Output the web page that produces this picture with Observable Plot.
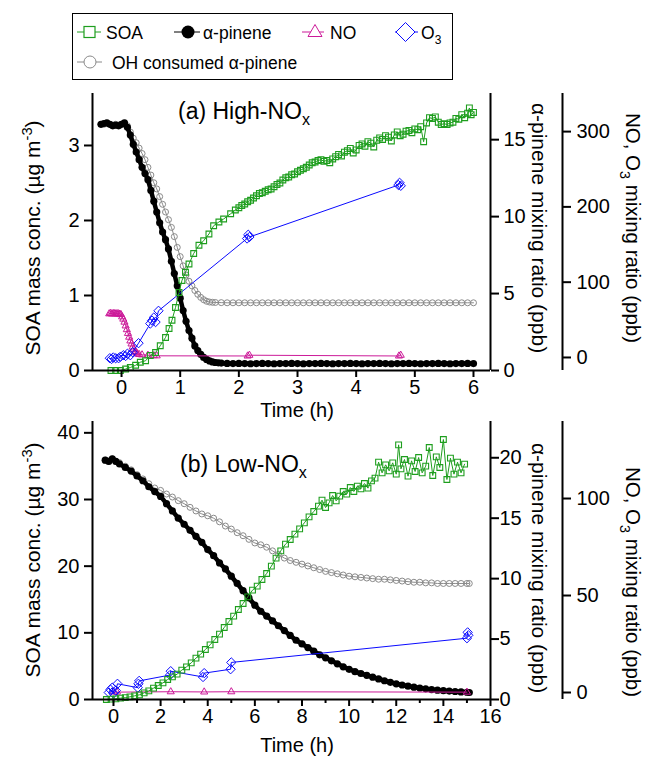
<!DOCTYPE html>
<html><head><meta charset="utf-8">
<script src="https://cdn.jsdelivr.net/npm/d3@7"></script>
<script src="https://cdn.jsdelivr.net/npm/@observablehq/plot@0.6"></script>
<style>
body{margin:0;background:#fff;}
#wrap{position:relative;width:647px;height:764px;font-family:'Liberation Sans',Arial,sans-serif;}
#legend{position:absolute;left:0;top:0;}
#panelA{position:absolute;left:0;top:80px;}
#panelB{position:absolute;left:0;top:413px;}
</style></head><body>
<div id="wrap">
<svg id="legend" width="647" height="82" font-family="'Liberation Sans', Arial, sans-serif" font-size="17.5">
<rect x="72.5" y="13.5" width="380" height="66" fill="none" stroke="#000"/>
<line x1="77" x2="101" y1="32" y2="32" stroke="#1e9e1e"/>
<rect x="84" y="26.5" width="11" height="11" fill="#fff" stroke="#1e9e1e" stroke-width="1.2"/>
<text x="106" y="38.5">SOA</text>
<line x1="174" x2="200" y1="32" y2="32" stroke="#000"/>
<circle cx="188" cy="32" r="6.5" fill="#000"/>
<text x="203" y="38.5">α-pinene</text>
<line x1="302" x2="324" y1="32" y2="32" stroke="#cc1a99"/>
<path d="M315,24.5 L322,36.5 L308,36.5 Z" fill="#fff" stroke="#cc1a99"/>
<text x="330" y="38.5">NO</text>
<line x1="395" x2="418" y1="32" y2="32" stroke="#0a0aff"/>
<path d="M405.5,22.5 L415,32 L405.5,41.5 L396,32 Z" fill="#fff" stroke="#0a0aff"/>
<text x="421" y="38.5">O<tspan dy="5" font-size="12">3</tspan></text>
<line x1="77" x2="102" y1="62" y2="62" stroke="#8a8a8a"/>
<circle cx="90" cy="62" r="6" fill="#fff" stroke="#8a8a8a"/>
<text x="112" y="68.5">OH consumed α-pinene</text>
</svg>
<div id="panelA"></div><div id="panelB"></div>
</div>
<script>
// ---------- Panel (a) High-NOx data : [time (h), value] ----------
const aTimeTicks = [0, 1, 2, 3, 4, 5, 6];
const aSoaTicks = [0, 1, 2, 3];
const aAlphaTicks = [0, 5, 10, 15];
const aNoxTicks = [0, 100, 200, 300];

// SOA mass conc. (ug m-3)
const aSOA = [[-0.18,0.00],[-0.10,0.00],[-0.02,0.00],[0.07,0.02],[0.15,0.04],[0.24,0.07],[0.32,0.11],[0.41,0.13],[0.49,0.20],[0.58,0.24],[0.66,0.33],[0.75,0.44],[0.81,0.56],[0.86,0.67],[0.92,0.84],[0.98,1.04],[1.03,1.20],[1.09,1.31],[1.15,1.42],[1.23,1.56],[1.32,1.67],[1.40,1.73],[1.49,1.82],[1.57,1.93],[1.66,1.98],[1.74,2.02],[1.86,2.09],[1.94,2.14],
[2.00,2.17],[2.05,2.20],[2.10,2.22],[2.15,2.25],[2.20,2.27],[2.25,2.30],[2.30,2.33],[2.35,2.36],[2.40,2.37],[2.45,2.39],[2.50,2.41],[2.55,2.42],[2.60,2.45],[2.65,2.48],[2.70,2.50],[2.75,2.54],[2.80,2.57],[2.85,2.58],[2.90,2.61],[2.95,2.62],[3.00,2.65],[3.05,2.67],[3.10,2.69],[3.15,2.71],[3.20,2.74],[3.25,2.77],[3.30,2.78],[3.35,2.80],[3.40,2.81],[3.45,2.79],[3.50,2.80],[3.55,2.77],[3.60,2.82],[3.65,2.85],[3.70,2.88],[3.75,2.86],[3.80,2.91],[3.85,2.93],[3.90,2.96],[3.95,2.90],[4.00,2.94],[4.05,3.00],[4.10,3.02],[4.15,2.99],[4.20,3.05],[4.25,3.03],[4.30,2.98],[4.35,3.07],[4.40,3.10],[4.45,3.08],[4.50,3.13],[4.55,3.11],[4.60,3.06],[4.65,3.14],[4.70,3.18],[4.75,3.13],[4.80,3.15],[4.85,3.19],[4.90,3.20],[4.95,3.17],[5.00,3.22],[5.05,3.21],[5.10,3.25],[5.15,3.05],[5.20,3.30],[5.25,3.37],[5.30,3.36],[5.35,3.38],[5.40,3.31],[5.45,3.28],[5.50,3.29],[5.55,3.28],[5.60,3.30],[5.65,3.31],[5.70,3.36],[5.75,3.35],[5.80,3.41],[5.85,3.37],[5.90,3.43],[5.93,3.50],[5.96,3.41],[6.00,3.44]];

// alpha-pinene (ppb)
const aAlpha = [[-0.35,16.0],[-0.3,16.05],[-0.25,16.1],[-0.2,16.0],[-0.15,15.9],[-0.1,15.95],[-0.05,15.9],[0,16.0],[0.05,16.1],[0.1,15.8],[0.15,15.3],[0.2,14.7],[0.25,14.2],[0.3,13.7],[0.35,13.2],[0.4,12.8],[0.45,12.4],[0.5,11.7],[0.55,11.0],[0.6,10.3],[0.65,9.6],[0.7,9.0],[0.75,8.5],[0.8,7.9],[0.85,7.1],[0.9,6.3],[0.95,5.5],[1.0,4.7],[1.05,3.9],[1.1,3.2],[1.15,2.6],[1.2,2.1],[1.25,1.6],[1.3,1.3],[1.35,1.05],[1.4,0.85],[1.45,0.72],[1.5,0.62],[1.55,0.56],[1.6,0.52],[1.65,0.5],[1.7,0.48],[1.8,0.46],[1.9,0.45],[2.0,0.46],[2.1,0.45],[2.2,0.44],[2.3,0.45],[2.4,0.46],[2.5,0.45],[2.6,0.44],[2.7,0.45],[2.8,0.45],[2.9,0.46],[3.0,0.45],[3.1,0.44],[3.2,0.45],[3.3,0.45],[3.4,0.46],[3.5,0.45],[3.6,0.44],[3.7,0.45],[3.8,0.45],[3.9,0.46],[4.0,0.45],[4.1,0.44],[4.2,0.45],[4.3,0.45],[4.4,0.46],[4.5,0.45],[4.6,0.44],[4.7,0.45],[4.8,0.45],[4.9,0.46],[5.0,0.45],[5.1,0.44],[5.2,0.45],[5.3,0.45],[5.4,0.46],[5.5,0.45],[5.6,0.44],[5.7,0.45],[5.8,0.45],[5.9,0.46],[6.0,0.45]];

// OH consumed alpha-pinene (ppb)
const aOH = [[-0.35,16.0],[-0.3,16.0],[-0.25,16.05],[-0.2,16.0],[-0.15,15.95],[-0.1,16.0],[-0.05,15.95],[0,16.0],[0.05,16.05],[0.1,15.9],[0.15,15.5],[0.2,15.1],[0.25,14.8],[0.3,14.45],[0.35,14.1],[0.4,13.7],[0.45,13.2],[0.5,12.7],[0.55,12.2],[0.6,11.8],[0.65,11.3],[0.7,10.8],[0.75,10.3],[0.8,9.8],[0.85,9.3],[0.9,8.7],[0.95,8.0],[1.0,7.4],[1.05,6.8],[1.1,6.2],[1.15,5.8],[1.2,5.5],[1.25,5.2],[1.3,4.95],[1.35,4.75],[1.4,4.6],[1.45,4.5],[1.5,4.45],[1.55,4.43],[1.6,4.42],[1.7,4.41],[1.8,4.4],[1.9,4.4],[2.0,4.4],[2.1,4.4],[2.2,4.4],[2.3,4.4],[2.4,4.4],[2.5,4.4],[2.6,4.4],[2.7,4.4],[2.8,4.4],[2.9,4.4],[3.0,4.4],[3.1,4.4],[3.2,4.4],[3.3,4.4],[3.4,4.4],[3.5,4.4],[3.6,4.4],[3.7,4.4],[3.8,4.4],[3.9,4.4],[4.0,4.4],[4.1,4.4],[4.2,4.4],[4.3,4.4],[4.4,4.4],[4.5,4.4],[4.6,4.4],[4.7,4.4],[4.8,4.4],[4.9,4.4],[5.0,4.4],[5.1,4.4],[5.2,4.4],[5.3,4.4],[5.4,4.4],[5.5,4.4],[5.6,4.4],[5.7,4.4],[5.8,4.4],[5.9,4.4],[6.0,4.4]];

// NO (ppb)
const aNO = [[-0.21,58],[-0.19,58.5],[-0.17,58],[-0.15,58],[-0.13,58.5],[-0.11,58],[-0.09,58],[-0.07,58],[-0.05,58],[-0.03,57.5],[-0.01,57],[0.01,54],[0.03,51],[0.05,47],[0.07,42],[0.09,37],[0.11,32],[0.13,27],[0.15,22],[0.17,18],[0.19,14],[0.21,11],[0.23,8],[0.25,6.5],[0.27,5],[0.3,4],[0.35,3.5],[0.45,3],[0.55,2.5],[0.6,2.2],[2.15,2],[2.18,3],[4.73,2],[4.76,3]];

// O3 (ppb)
const aO3 = [[-0.2,-1],[-0.17,-2],[-0.14,0],[-0.1,-1],[-0.05,-1],[-0.02,1],[0.03,3],[0.07,2],[0.1,5],[0.15,3],[0.19,7],[0.29,19],[0.49,45],[0.52,49],[0.55,53],[0.58,47],[0.63,62],[2.14,158],[2.16,163],[2.18,160],[4.72,229],[4.74,232],[4.76,228]];

// ---------- Panel (b) Low-NOx data ----------
const bTimeTicks = [0, 2, 4, 6, 8, 10, 12, 14, 16];
const bTimeMinor = [1, 3, 5, 7, 9, 11, 13, 15];
const bSoaTicks = [0, 10, 20, 30, 40];
const bAlphaTicks = [0, 5, 10, 15, 20];
const bNoxTicks = [0, 50, 100];

const bSOA = [[-0.3,0.0],[-0.1,0.05],[0.1,0.1],[0.3,0.2],[0.5,0.28],[0.7,0.4],[0.9,0.55],[1.1,0.7],[1.3,1.0],[1.5,1.3],[1.7,1.7],[1.9,2.1],[2.1,2.5],[2.3,3.0],[2.5,3.4],[2.7,3.8],[2.9,4.4],[3.1,4.9],[3.3,5.5],[3.5,6.2],[3.7,6.8],[3.9,7.5],[4.1,8.2],[4.3,9.0],[4.5,9.8],[4.7,10.8],[4.9,11.7],[5.1,12.5],[5.3,13.5],[5.5,14.4],[5.7,15.4],[5.9,16.4],[6.1,17.0],[6.3,18.0],[6.5,18.9],[6.7,20.0],[6.9,21.2],[7.1,22.3],[7.3,23.3],[7.5,24.0],[7.7,24.8],[7.9,25.6],[8.1,26.5],[8.3,27.4],[8.5,28.2],[8.7,29.0],[8.85,29.9],[9.0,28.8],[9.15,29.5],[9.3,30.6],[9.45,29.8],[9.6,30.5],[9.75,31.2],[9.9,30.8],[10.05,31.8],[10.2,31.2],[10.35,32.0],[10.5,31.6],[10.65,32.4],[10.8,31.7],[10.95,32.8],[11.1,33.2],[11.25,35.6],[11.4,34.0],[11.55,35.2],[11.7,34.3],[11.85,35.5],[12.0,33.8],[12.1,38.2],[12.2,34.6],[12.35,36.0],[12.5,33.5],[12.65,35.8],[12.8,34.2],[12.95,36.3],[13.1,34.0],[13.25,35.0],[13.4,37.8],[13.55,33.6],[13.7,36.4],[13.85,34.8],[14.0,39.0],[14.15,33.0],[14.3,36.2],[14.45,33.8],[14.6,35.6],[14.75,34.0],[14.9,35.3]];

const bAlpha = [[-0.35,19.8],[-0.2,19.7],[-0.05,19.9],[0.1,19.7],[0.25,19.5],[0.5,19.2],[0.75,18.9],[1.0,18.5],[1.25,18.1],[1.5,17.6],[1.75,17.2],[2.0,16.8],[2.25,16.2],[2.5,15.6],[2.75,15.0],[3.0,14.5],[3.25,14.0],[3.5,13.5],[3.75,13.0],[4.0,12.4],[4.25,11.9],[4.5,11.3],[4.75,10.8],[5.0,10.2],[5.25,9.6],[5.5,9.0],[5.75,8.4],[6.0,7.8],[6.25,7.3],[6.5,6.9],[6.75,6.5],[7.0,6.1],[7.25,5.7],[7.5,5.3],[7.75,4.9],[8.0,4.6],[8.25,4.3],[8.5,4.0],[8.75,3.7],[9.0,3.45],[9.25,3.2],[9.5,2.95],[9.75,2.7],[10.0,2.5],[10.25,2.3],[10.5,2.15],[10.75,2.0],[11.0,1.85],[11.25,1.7],[11.5,1.55],[11.75,1.42],[12.0,1.3],[12.25,1.2],[12.5,1.1],[12.75,1.02],[13.0,0.95],[13.25,0.88],[13.5,0.82],[13.75,0.77],[14.0,0.73],[14.25,0.7],[14.5,0.66],[14.75,0.63],[15.0,0.6],[15.1,0.58]];

const bOH = [[-0.35,19.8],[-0.2,19.7],[-0.05,19.9],[0.1,19.7],[0.25,19.6],[0.5,19.3],[0.75,19.0],[1.0,18.6],[1.25,18.25],[1.5,17.85],[1.75,17.5],[2.0,17.3],[2.25,17.0],[2.5,16.75],[2.75,16.45],[3.0,16.2],[3.25,15.9],[3.5,15.6],[3.75,15.35],[4.0,15.2],[4.25,15.0],[4.5,14.7],[4.75,14.35],[5.0,14.1],[5.25,13.8],[5.5,13.55],[5.75,13.25],[6.0,12.95],[6.25,12.8],[6.5,12.6],[6.75,12.3],[7.0,12.0],[7.25,11.7],[7.5,11.5],[7.75,11.35],[8.0,11.2],[8.25,11.05],[8.5,10.9],[8.75,10.75],[9.0,10.6],[9.25,10.5],[9.5,10.4],[9.75,10.3],[10.0,10.2],[10.25,10.15],[10.5,10.1],[10.75,10.05],[11.0,10.0],[11.25,9.95],[11.5,9.95],[11.75,9.9],[12.0,9.85],[12.25,9.8],[12.5,9.75],[12.75,9.7],[13.0,9.7],[13.25,9.65],[13.5,9.65],[13.75,9.6],[14.0,9.6],[14.25,9.6],[14.5,9.6],[14.75,9.6],[15.0,9.6],[15.1,9.6]];

const bNO = [[0.0,0.3],[0.15,0.2],[2.43,0.4],[3.85,0.3],[5.0,0.4],[15.0,0.2]];

const bO3 = [[-0.2,0],[-0.13,1.5],[-0.05,2.5],[0.0,-0.5],[0.1,1],[0.17,4.5],[1.03,2.5],[1.06,4.5],[1.09,6],[2.4,9],[2.43,11],[3.8,8],[3.85,10],[4.97,12],[5.0,15.5],[15.0,28],[15.03,31],[15.06,29.5]];

// ---------- drawing ----------
const FONT = "'Liberation Sans', Arial, sans-serif";
const GREEN = "#1e9e1e", MAG = "#cc1a99", BLUE = "#0a0aff", GRAY = "#8a8a8a";

function addText(svg, x, y, rot, parts, size, anchor) {
  const t = svg.append("text")
    .attr("transform", `translate(${x},${y}) rotate(${rot})`)
    .attr("text-anchor", anchor || "middle")
    .style("font-size", size + "px").style("font-family", FONT).attr("fill", "#000");
  parts.forEach(p => {
    const ts = t.append("tspan").text(p.t);
    if (p.sup) ts.attr("dy", -8).style("font-size", (size * 0.7) + "px");
    if (p.sub) ts.attr("dy", 6).style("font-size", (size * 0.7) + "px");
    if (p.back) ts.attr("dy", p.back);
  });
  return t;
}

function buildPanel(c) {
  const a2l = d3.scaleLinear().domain([0, c.alphaMax]).range([0, c.leftMax]);
  const n2l = d3.scaleLinear().domain(c.noDomain).range([0, c.leftMax]);
  const X = d => d[0], yL = d => d[1], yA = d => a2l(d[1]), yN = d => n2l(d[1]);
  const [x0, x1] = c.xDomain;
  const fmt = v => String(Math.round(v));
  const marks = [
    Plot.line(c.oh, {x: X, y: yA, stroke: GRAY, strokeWidth: 1}),
    Plot.dot(c.oh, {x: X, y: yA, r: 3, stroke: GRAY, fill: "none", strokeWidth: 1}),
    Plot.line(c.alpha, {x: X, y: yA, stroke: "#000", strokeWidth: 4.5}),
    Plot.dot(c.alpha, {x: X, y: yA, r: 3.6, fill: "#000", stroke: "none"}),
    Plot.line(c.no, {x: X, y: yN, stroke: MAG, strokeWidth: 1}),
    Plot.dot(c.no, {x: X, y: yN, symbol: "triangle2", r: 3.4, stroke: MAG, fill: "none", strokeWidth: 1}),
    Plot.line(c.o3, {x: X, y: yN, stroke: BLUE, strokeWidth: 1}),
    Plot.dot(c.o3, {x: X, y: yN, symbol: "diamond2", r: 4.2, stroke: BLUE, fill: "none", strokeWidth: 1}),
    Plot.line(c.soa, {x: X, y: yL, stroke: GREEN, strokeWidth: 1}),
    Plot.dot(c.soa, {x: X, y: yL, symbol: "square2", r: 3.7, stroke: GREEN, fill: "none", strokeWidth: 1.1}),
    Plot.ruleY([0], {strokeWidth: 2}),
    Plot.ruleX([x0], {strokeWidth: 2}),
    Plot.ruleX([x1], {strokeWidth: 2}),
    Plot.ruleX([x1], {strokeWidth: 2, dx: 72}),
    Plot.axisX({ticks: c.xTicks, tickSize: 7, tickPadding: 2, strokeWidth: 2, tickFormat: d => String(d), label: null}),
    Plot.axisY({anchor: "left", ticks: c.yTicks, tickSize: 8, tickPadding: 5, strokeWidth: 2, tickFormat: d => String(d), label: null}),
    Plot.axisY({anchor: "right", ticks: c.alphaTicks.map(a2l), tickSize: 8, tickPadding: c.alphaPad, strokeWidth: 2, tickFormat: d => fmt(a2l.invert(d)), label: null}),
    Plot.axisY({anchor: "right", dx: 72, ticks: c.noTicks.map(n2l), tickSize: 8, tickPadding: 6, strokeWidth: 2, tickFormat: d => fmt(n2l.invert(d)), label: null})
  ];
  if (c.xMinor) marks.push(Plot.axisX({ticks: c.xMinor, tickSize: 4, strokeWidth: 2, tickFormat: () => "", label: null}));
  return Plot.plot({
    width: 647, height: c.height,
    marginLeft: 92, marginRight: 157, marginTop: c.marginTop, marginBottom: c.marginBottom,
    x: {domain: c.xDomain, label: null},
    y: {domain: [0, c.leftMax], label: null},
    style: {fontFamily: FONT, fontSize: "20px", color: "#000", background: "transparent", overflow: "visible"},
    marks
  });
}

// Panel (a)
const chartA = buildPanel({
  xDomain: [-0.495, 6.29], leftMax: 3.693, alphaMax: 18.0, noDomain: [-17.3, 350.6],
  xTicks: aTimeTicks, yTicks: aSoaTicks, alphaTicks: aAlphaTicks, noTicks: aNoxTicks, alphaPad: 5,
  soa: aSOA, alpha: aAlpha, oh: aOH, no: aNO, o3: aO3,
  height: 340, marginTop: 13, marginBottom: 50
});
document.getElementById("panelA").appendChild(chartA);
{
  const s = d3.select(chartA);
  addText(s, 178, 39, 0, [{t: "(a) High-NO"}, {t: "x", sub: true}], 23, "start");
  addText(s, 40, 158, -90, [{t: "SOA mass conc. (µg m"}, {t: "-3", sup: true}, {t: ")", back: 8}], 21);
  addText(s, 532, 148, 90, [{t: "α-pinene mixing ratio (ppb)"}], 21);
  addText(s, 626, 148, 90, [{t: "NO, O"}, {t: "3", sub: true}, {t: " mixing ratio (ppb)", back: -6}], 20.5);
  addText(s, 297, 337, 0, [{t: "Time (h)"}], 20);
}

// Panel (b)
const chartB = buildPanel({
  xDomain: [-0.89, 16], leftMax: 41.7, alphaMax: 23.0, noDomain: [-3.6, 139.7],
  xTicks: bTimeTicks, xMinor: bTimeMinor, yTicks: bSoaTicks, alphaTicks: bAlphaTicks, noTicks: bNoxTicks, alphaPad: 1,
  soa: bSOA, alpha: bAlpha, oh: bOH, no: bNO, o3: bO3,
  height: 351, marginTop: 8, marginBottom: 65
});
document.getElementById("panelB").appendChild(chartB);
{
  const s = d3.select(chartB);
  addText(s, 180, 59, 0, [{t: "(b) Low-NO"}, {t: "x", sub: true}], 23, "start");
  addText(s, 40, 147, -90, [{t: "SOA mass conc. (µg m"}, {t: "-3", sup: true}, {t: ")", back: 8}], 21);
  addText(s, 532, 155, 90, [{t: "α-pinene mixing ratio (ppb)"}], 21);
  addText(s, 626, 169, 90, [{t: "NO, O"}, {t: "3", sub: true}, {t: " mixing ratio (ppb)", back: -6}], 20.5);
  addText(s, 297, 339, 0, [{t: "Time (h)"}], 20);
}
</script>
</body></html>
